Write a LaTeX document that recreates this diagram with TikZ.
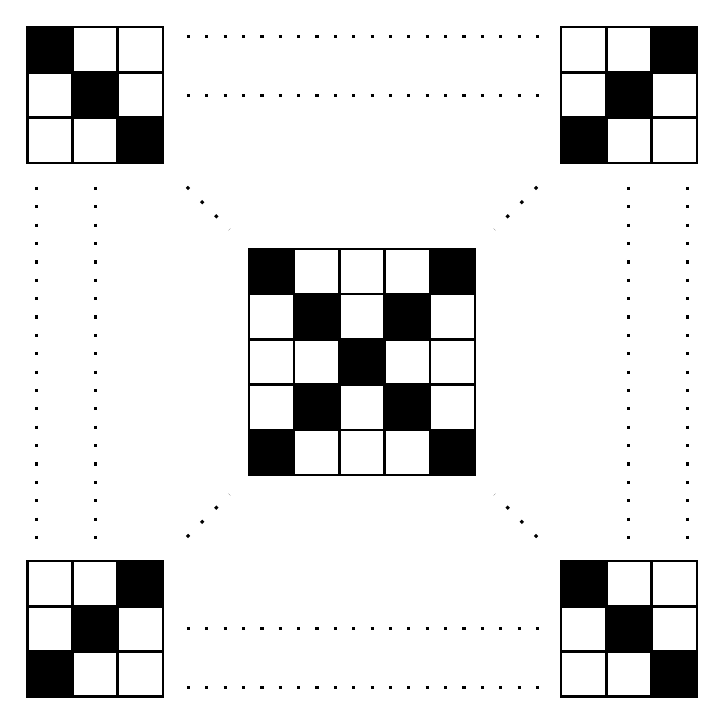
\documentclass[tikz,border=0pt]{standalone}
\usepackage{tikz}

\tikzset{
  cellline/.style={draw=black, line width=1.7pt},
  gridbox/.style={rectangle, draw=black, line width=1.7pt, inner sep=0pt, minimum size=#1},
  dotline/.style={line width=1.9pt, dash pattern=on 2pt off 9.55pt},
  diagline/.style={line width=1.9pt, dash pattern=on 2pt off 10.6pt}
}

% cells of one board: lower left corner, size, black cells as col/row
\newcommand{\boardcells}[4]{%
  \begin{scope}[shift={(#1,#2)}]
    \foreach \c/\r in {#4}
      \fill[black] (\c,\r) rectangle ++(1,1);
    \foreach \c in {1,...,#3}
      \foreach \r in {1,...,#3}
        \draw[cellline] (\c-1,\r-1) rectangle ++(1,1);
  \end{scope}}

\begin{document}
\begin{tikzpicture}

\useasboundingbox (0,0) rectangle (16,16);

% the five boards
\boardcells{0.6}{12.4}{3}{0/2,1/1,2/0}
\boardcells{12.4}{12.4}{3}{2/2,1/1,0/0}
\boardcells{0.6}{0.6}{3}{2/2,1/1,0/0}
\boardcells{12.4}{0.6}{3}{0/2,1/1,2/0}
\boardcells{5.5}{5.5}{5}{0/0,4/0,1/1,3/1,2/2,1/3,3/3,0/4,4/4}

\node[gridbox=3cm] (top_left) at (2.1,13.9) {};
\node[gridbox=3cm] (top_right) at (13.9,13.9) {};
\node[gridbox=3cm] (bottom_left) at (2.1,2.1) {};
\node[gridbox=3cm] (bottom_right) at (13.9,2.1) {};
\node[gridbox=5cm] (center_board) at (8,8) {};

% dotted links between the boards
\draw[dotline] ([xshift=5mm,yshift=-2.4mm]top_left.north east) -- ([xshift=-4.6mm,yshift=-2.4mm]top_right.north west);
\draw[dotline] ([xshift=5mm,yshift=-15.3mm]top_left.north east) -- ([xshift=-4.6mm,yshift=-15.3mm]top_right.north west);
\draw[dotline] ([xshift=5mm,yshift=15.3mm]bottom_left.south east) -- ([xshift=-4.6mm,yshift=15.3mm]bottom_right.south west);
\draw[dotline] ([xshift=5mm,yshift=2.4mm]bottom_left.south east) -- ([xshift=-4.6mm,yshift=2.4mm]bottom_right.south west);

\draw[dotline] ([xshift=2.4mm,yshift=-5mm]top_left.south west) -- ([xshift=2.4mm,yshift=4.6mm]bottom_left.north west);
\draw[dotline] ([xshift=15.3mm,yshift=-5mm]top_left.south west) -- ([xshift=15.3mm,yshift=4.6mm]bottom_left.north west);
\draw[dotline] ([xshift=-15.3mm,yshift=-5mm]top_right.south east) -- ([xshift=-15.3mm,yshift=4.6mm]bottom_right.north east);
\draw[dotline] ([xshift=-2.4mm,yshift=-5mm]top_right.south east) -- ([xshift=-2.4mm,yshift=4.6mm]bottom_right.north east);

\draw[diagline] ([xshift=5mm,yshift=-5mm]top_left.south east) -- ([xshift=-4mm,yshift=4mm]center_board.north west);
\draw[diagline] ([xshift=-5mm,yshift=-5mm]top_right.south west) -- ([xshift=4mm,yshift=4mm]center_board.north east);
\draw[diagline] ([xshift=5mm,yshift=5mm]bottom_left.north east) -- ([xshift=-4mm,yshift=-4mm]center_board.south west);
\draw[diagline] ([xshift=-5mm,yshift=5mm]bottom_right.north west) -- ([xshift=4mm,yshift=-4mm]center_board.south east);

\end{tikzpicture}
\end{document}
